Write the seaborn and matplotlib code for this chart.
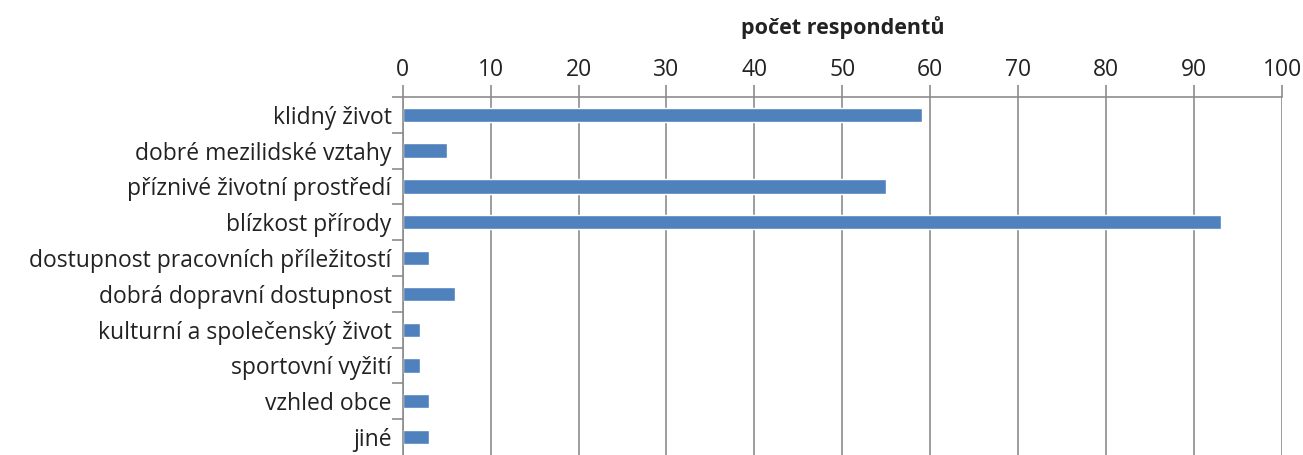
import matplotlib
matplotlib.use("Agg")
import matplotlib.pyplot as plt
import seaborn as sns
import pandas as pd

# --- data ---
kategorie = [
    "klidný život",
    "dobré mezilidské vztahy",
    "příznivé životní prostředí",
    "blízkost přírody",
    "dostupnost pracovních příležitostí",
    "dobrá dopravní dostupnost",
    "kulturní a společenský život",
    "sportovní vyžití",
    "vzhled obce",
    "jiné",
]
pocet = [59, 5, 55, 93, 3, 6, 2, 2, 3, 3]
x_ticks = list(range(0, 101, 10))

df = pd.DataFrame({"kategorie": kategorie, "pocet": pocet})

sns.set_style("white")
plt.rcParams["font.family"] = ["Open Sans", "DejaVu Sans"]

fig = plt.figure(figsize=(13.03, 4.55), dpi=100)
ax = fig.add_axes([0.309, 0.0, 0.675, 0.787])

sns.barplot(data=df, x="pocet", y="kategorie", orient="h",
            color="#4F81BD", saturation=1, width=0.4, ax=ax)

ax.set_xlim(0, 100)
ax.set_ylim(9.5, -0.5)
ax.set_xticks(x_ticks)
ax.xaxis.tick_top()
ax.xaxis.set_label_position("top")
ax.set_xlabel("počet respondentů", fontsize=15.5, fontweight="bold",
              color="#222222", labelpad=17)
ax.set_ylabel("")

# vertical gridlines
ax.grid(axis="x", color="#8c8c8c", linewidth=1.2)
ax.set_axisbelow(True)

for s in ["right", "bottom"]:
    ax.spines[s].set_visible(False)
for s in ["top", "left"]:
    ax.spines[s].set_color("#8c8c8c")
    ax.spines[s].set_linewidth(1.2)

ax.tick_params(axis="x", top=True, length=9, width=1.2, color="#8c8c8c",
               labelsize=16.5, labelcolor="#222222", pad=2)

# y ticks placed between categories, labels at category centres
ax.set_yticks(range(len(kategorie)))
ax.set_yticklabels(kategorie)
ax.tick_params(axis="y", length=0, labelsize=16.5, labelcolor="#222222", pad=8)
ax.set_yticks([i + 0.5 for i in range(-1, len(kategorie) - 1)], minor=True)
ax.tick_params(axis="y", which="minor", left=True, length=8, width=1.2,
               color="#8c8c8c")

fig.savefig("out.png", dpi=100)
